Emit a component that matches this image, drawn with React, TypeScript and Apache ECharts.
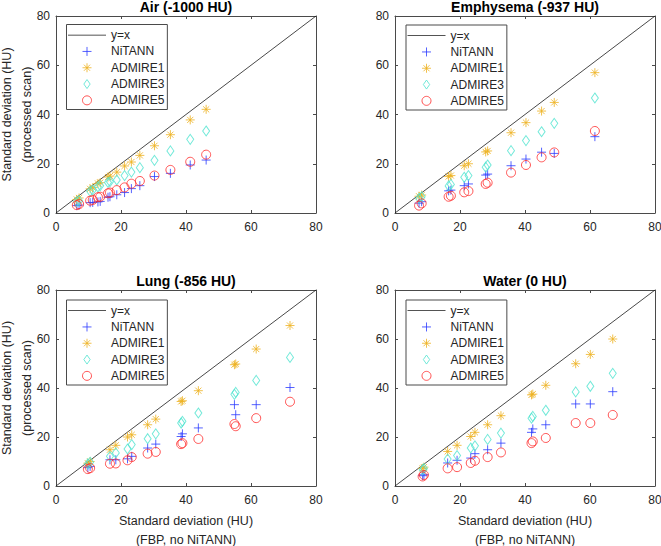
import React, { useEffect, useRef } from "react";
import * as echarts from "echarts";

// ---------- data ----------
const panelTitles = ["Air (-1000 HU)", "Emphysema (-937 HU)", "Lung (-856 HU)", "Water (0 HU)"];
const seriesNames = ["NiTANN", "ADMIRE1", "ADMIRE3", "ADMIRE5"];
const tickValues = [0, 20, 40, 60, 80];

// Air
const airFBP = [6.4, 7.1, 10.5, 11.3, 12.9, 13.6, 16.0, 16.6, 18.7, 21.1, 23.2, 25.8, 30.3, 35.2, 41.3, 46.2];
const airNiTANN = [3.0, 3.2, 4.2, 4.3, 4.5, 4.7, 6.4, 6.6, 7.4, 8.3, 9.9, 11.1, 14.8, 16.1, 19.5, 21.5];
const airADMIRE1 = [5.5, 6.1, 9.8, 10.3, 12.0, 12.3, 14.6, 15.0, 16.6, 19.1, 20.7, 23.4, 27.3, 31.8, 37.8, 42.1];
const airADMIRE3 = [4.6, 5.0, 8.8, 9.3, 10.6, 11.1, 12.4, 12.7, 13.4, 15.2, 16.6, 18.4, 21.4, 25.2, 29.9, 33.3];
const airADMIRE5 = [3.2, 3.6, 5.0, 5.3, 6.4, 6.6, 8.0, 8.3, 9.3, 10.4, 11.9, 13.0, 15.2, 17.5, 20.8, 23.7];

// Emphysema
const empFBP = [7.4, 8.2, 16.5, 17.2, 21.3, 22.6, 27.9, 28.5, 35.7, 40.3, 45.1, 49.0, 61.5];
const empNiTANN = [4.0, 4.6, 9.0, 9.3, 11.1, 11.8, 15.4, 15.8, 19.2, 21.9, 24.7, 24.2, 31.0];
const empADMIRE1 = [6.8, 7.3, 14.8, 15.2, 19.2, 20.0, 24.8, 25.2, 32.6, 36.7, 41.4, 44.9, 57.0];
const empADMIRE3 = [6.0, 6.6, 11.0, 11.6, 14.5, 15.2, 18.6, 19.5, 25.3, 29.4, 33.0, 36.4, 46.7];
const empADMIRE5 = [3.0, 3.9, 6.6, 7.0, 8.4, 8.9, 11.8, 12.3, 16.4, 19.5, 22.6, 24.6, 33.3];

// Lung
const lungFBP = [9.8, 10.5, 16.6, 18.4, 22.0, 23.3, 28.2, 30.7, 38.5, 38.9, 43.8, 54.9, 55.3, 61.6, 72.0];
const lungNiTANN = [7.5, 8.0, 10.7, 10.7, 11.1, 12.1, 15.5, 17.1, 20.2, 21.3, 23.7, 33.2, 29.1, 33.2, 40.2];
const lungADMIRE1 = [9.3, 10.0, 14.8, 16.6, 20.0, 20.9, 25.0, 27.3, 34.5, 34.8, 38.9, 49.5, 49.8, 55.9, 65.5];
const lungADMIRE3 = [9.0, 9.7, 12.1, 13.5, 15.1, 16.9, 19.3, 21.3, 25.7, 26.4, 29.8, 37.4, 38.2, 43.1, 52.5];
const lungADMIRE5 = [6.9, 7.3, 9.1, 9.2, 10.5, 11.8, 13.2, 13.9, 17.1, 17.5, 19.2, 25.3, 24.4, 27.7, 34.4];

// Water
const waterFBP = [8.5, 8.9, 16.2, 19.1, 23.3, 24.6, 28.5, 32.6, 42.0, 42.4, 46.4, 55.6, 60.1, 67.0];
const waterNiTANN = [4.2, 4.6, 9.4, 10.5, 11.4, 13.2, 14.8, 17.5, 21.9, 23.3, 25.0, 33.5, 33.5, 38.5];
const waterADMIRE1 = [7.2, 7.7, 14.1, 16.6, 20.2, 21.9, 25.0, 28.7, 37.2, 37.5, 41.1, 49.9, 53.7, 60.0];
const waterADMIRE3 = [6.6, 7.1, 11.0, 12.4, 15.5, 16.4, 19.0, 21.6, 27.7, 28.4, 30.9, 38.4, 40.7, 46.0];
const waterADMIRE5 = [3.9, 4.5, 7.2, 7.7, 9.4, 10.3, 11.8, 13.7, 17.5, 18.2, 19.6, 25.7, 25.7, 29.0];

const panelFBP = [airFBP, empFBP, lungFBP, waterFBP];
const panelSeries = [
  [airNiTANN, airADMIRE1, airADMIRE3, airADMIRE5],
  [empNiTANN, empADMIRE1, empADMIRE3, empADMIRE5],
  [lungNiTANN, lungADMIRE1, lungADMIRE3, lungADMIRE5],
  [waterNiTANN, waterADMIRE1, waterADMIRE3, waterADMIRE5],
];

// ---------- styles / layout ----------
const FONT = '"Liberation Sans", Arial, Helvetica, sans-serif';
const AX = "#4a4a4a";
const TXT = "#262626";
const GRIDS = [
  { left: 56, top: 16, width: 260, height: 197 },
  { left: 395, top: 16, width: 260, height: 197 },
  { left: 56, top: 290, width: 260, height: 196 },
  { left: 395, top: 290, width: 260, height: 196 },
];
const LEGEND_POS = [
  { left: 66.5, top: 24.5 },
  { left: 406, top: 25 },
  { left: 66.5, top: 300 },
  { left: 406, top: 300 },
];
const PLUS = "path://M5,0L5,10M0,5L10,5";
const STAR = "path://M5,0L5,10M0,5L10,5M1.6,1.6L8.4,8.4M1.6,8.4L8.4,1.6";
const DIAMOND = "path://M3.5,0L7,5L3.5,10L0,5Z";
const MARKERS = [
  { symbol: PLUS, legendIcon: PLUS, size: 9, color: "#2b3bff" },
  { symbol: STAR, legendIcon: STAR, size: 9, color: "#edb120" },
  { symbol: "diamond", legendIcon: DIAMOND, size: [7, 10], color: "#4fe3cf" },
  { symbol: "circle", legendIcon: "circle", size: 9, color: "#ff2a2a" },
];
const LINE_ICON = "path://M0,0L40,0L40,0.8L0,0.8Z";

function buildOption() {
  const xAxis: any[] = [];
  const yAxis: any[] = [];
  const series: any[] = [];
  const legend: any[] = [];
  const graphic: any[] = [];
  const lineStyle = { color: AX, width: 1 };

  const legendData = [
    { name: "y=x", icon: LINE_ICON, itemStyle: { color: "#1a1a1a", borderWidth: 0 } },
    ...seriesNames.map((name, s) => ({
      name,
      icon: MARKERS[s].legendIcon,
      itemStyle: { color: "none", borderColor: MARKERS[s].color, borderWidth: 1 },
    })),
  ];

  GRIDS.forEach((g, i) => {
    const bottomRow = i >= 2;
    const leftCol = i % 2 === 0;
    xAxis.push({
      type: "value", gridIndex: i, min: 0, max: 80, interval: 20, position: "bottom",
      axisLine: { show: true, onZero: false, lineStyle },
      axisTick: { show: true, inside: true, length: 3, lineStyle },
      axisLabel: { color: TXT, fontSize: 12, fontFamily: FONT, margin: 8,
        formatter: (v: number) => (tickValues.includes(v) ? String(v) : "") },
      splitLine: { show: false },
      name: bottomRow ? "Standard deviation (HU)\n(FBP, no NiTANN)" : "",
      nameLocation: "middle", nameGap: 25, nameMoveOverlap: false,
      nameTextStyle: { color: TXT, fontSize: 12.5, fontFamily: FONT, lineHeight: 19 },
    });
    xAxis.push({
      type: "value", gridIndex: i, min: 0, max: 80, interval: 20, position: "top",
      axisLine: { show: true, onZero: false, lineStyle },
      axisTick: { show: true, inside: true, length: 3, lineStyle },
      axisLabel: { show: false }, splitLine: { show: false },
    });
    yAxis.push({
      type: "value", gridIndex: i, min: 0, max: 80, interval: 20, position: "left",
      axisLine: { show: true, onZero: false, lineStyle },
      axisTick: { show: true, inside: true, length: 3, lineStyle },
      axisLabel: { color: TXT, fontSize: 12, fontFamily: FONT, margin: 6 },
      splitLine: { show: false },
      name: leftCol ? "Standard deviation (HU)\n(processed scan)" : "",
      nameLocation: "middle", nameGap: 19.5, nameRotate: 90, nameMoveOverlap: false,
      nameTextStyle: { color: TXT, fontSize: 12.5, fontFamily: FONT, lineHeight: 20 },
    });
    yAxis.push({
      type: "value", gridIndex: i, min: 0, max: 80, interval: 20, position: "right",
      axisLine: { show: true, onZero: false, lineStyle },
      axisTick: { show: true, inside: true, length: 3, lineStyle },
      axisLabel: { show: false }, splitLine: { show: false },
    });

    series.push({
      type: "line", name: "y=x", xAxisIndex: 2 * i, yAxisIndex: 2 * i,
      data: [[0, 0], [80, 80]], symbol: "none", showSymbol: false,
      lineStyle: { color: "#1a1a1a", width: 0.8 }, silent: true, z: 1,
    });
    seriesNames.forEach((name, s) => {
      const m = MARKERS[s];
      const ys = panelSeries[i][s];
      series.push({
        type: "scatter", name, xAxisIndex: 2 * i, yAxisIndex: 2 * i,
        data: panelFBP[i].map((x, k) => [x, ys[k]]),
        symbol: m.symbol, symbolSize: m.size, symbolKeepAspect: true,
        itemStyle: { color: "none", borderColor: m.color, borderWidth: 1 },
        emphasis: { disabled: true }, silent: true, z: 2,
      });
    });

    legend.push({
      show: true, orient: "vertical", left: LEGEND_POS[i].left, top: LEGEND_POS[i].top,
      data: legendData, itemWidth: 38, itemHeight: 9, itemGap: 0,
      symbolKeepAspect: true,
      padding: [2.5, 3, 1, 1.5], borderColor: AX, borderWidth: 1, backgroundColor: "#fff",
      selectedMode: false,
      textStyle: { color: TXT, fontSize: 12, fontFamily: FONT, lineHeight: 16.3 },
    });

    graphic.push({
      type: "text", x: g.left + g.width / 2, y: g.top - 9,
      style: { text: panelTitles[i], textAlign: "center", textVerticalAlign: "middle",
        font: `bold 14px ${FONT}`, fill: "#000" },
    });
  });

  return {
    animation: false,
    backgroundColor: "#fff",
    grid: GRIDS.map((g) => ({ ...g, containLabel: false, outerBoundsMode: "none" })),
    xAxis, yAxis, series, legend, graphic,
  };
}

export default function App() {
  const ref = useRef<HTMLDivElement>(null);
  useEffect(() => {
    if (!ref.current) return;
    const chart = echarts.init(ref.current, null, { renderer: "svg" });
    chart.setOption(buildOption() as any);
    return () => chart.dispose();
  }, []);
  return (
    <div
      ref={ref}
      style={{ position: "absolute", left: 0, top: 0, width: 661, height: 546, background: "#fff" }}
    />
  );
}
